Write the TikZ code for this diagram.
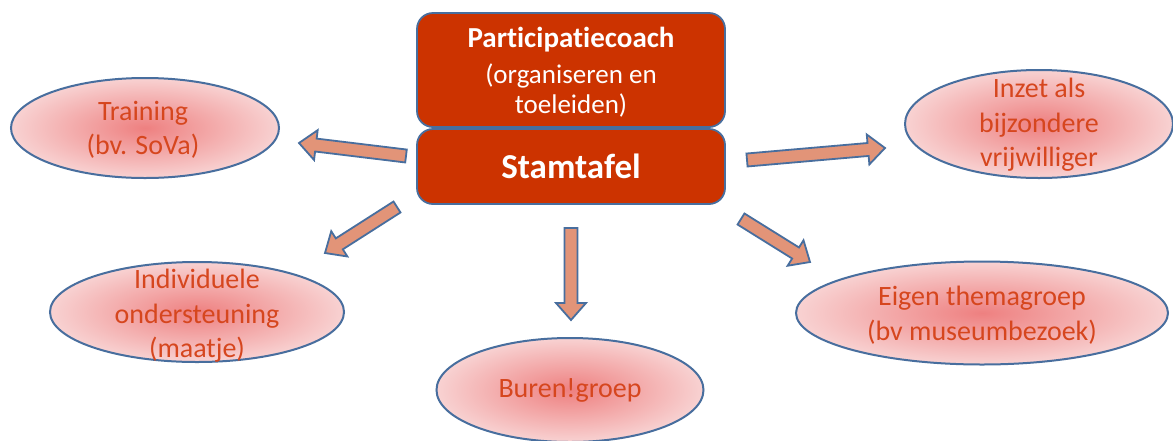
\documentclass[tikz,border=0pt]{standalone}
\usepackage{fontspec}
\setmainfont{Carlito}[Ligatures=NoCommon]
\usetikzlibrary{shapes.geometric,calc}
\definecolor{boxred}{RGB}{204,51,0}
\definecolor{edgeblue}{RGB}{72,110,158}
\definecolor{arrfill}{RGB}{226,148,120}
\definecolor{ellin}{RGB}{238,128,128}
\definecolor{ellout}{RGB}{248,210,210}
\definecolor{elltext}{RGB}{214,70,30}
\tikzset{
  topbox/.style={draw=edgeblue, line width=1.8pt, fill=boxred, rounded corners=16pt,
    minimum width=308pt, inner sep=0pt},
  boxtext/.style={text=white, align=center, inner sep=0pt},
  bubble/.style={ellipse, draw=edgeblue, line width=2pt, inner color=ellin,
    outer color=ellout, inner sep=0pt},
  bubtext/.style={text=elltext, align=center, inner sep=0pt,
    font=\fontsize{28}{34.5}\selectfont},
  blockarrow/.style={draw=edgeblue, line width=1.8pt, fill=arrfill, line join=miter}
}
\newcommand\blockarr[2]{%
  \coordinate (h) at ($(#2)!17pt!(#1)$);
  \draw[blockarrow] ($(#1)!6.5pt!90:(#2)$) -- ($(h)!6.5pt!-90:(#1)$)
    -- ($(h)!15pt!-90:(#1)$) -- (#2) -- ($(h)!15pt!90:(#1)$)
    -- ($(h)!6.5pt!90:(#1)$) -- ($(#1)!6.5pt!-90:(#2)$) -- cycle;
}
\begin{document}
\begin{tikzpicture}[x=1pt,y=-1pt]
\useasboundingbox[fill=white] (0,0) rectangle (1173,440);
% central boxes
\node[topbox, minimum height=114pt] (coach) at (571,70) {};
\node[topbox, minimum height=75pt] (stam) at (571,166.5) {};
\node[boxtext, font=\fontsize{29}{30}\selectfont\bfseries] (coacht) at (571,40) {Participatiecoach};
\node[boxtext, font=\fontsize{27}{30}\selectfont] (coachs) at (571,90) {(organiseren en\\toeleiden)};
\node[boxtext, font=\fontsize{35}{40}\selectfont\bfseries] (stamt) at (571,166) {Stamtafel};
% bubbles
\node[bubble, minimum width=268pt, minimum height=100pt] (train) at (145,128) {};
\node[bubtext] (traint) at (143,130) {Training\\(bv. SoVa)};
\node[bubble, minimum width=294pt, minimum height=100pt] (indiv) at (197,312) {};
\node[bubtext] (indivt) at (197,316) {Individuele\\ondersteuning\\(maatje)};
\node[bubble, minimum width=267pt, minimum height=104pt] (buren) at (570,390) {};
\node[bubtext] (burent) at (570,390) {Buren!groep};
\node[bubble, minimum width=268pt, minimum height=108pt] (inzet) at (1039,124) {};
\node[bubtext] (inzett) at (1039,125) {Inzet als\\bijzondere\\vrijwilliger};
\node[bubble, minimum width=372pt, minimum height=103pt] (eigen) at (982,313) {};
\node[bubtext] (eigent) at (982,315) {Eigen themagroep\\(bv museumbezoek)};
% arrow ends
\coordinate (a1s) at (406,156); \coordinate (a1e) at (299,143);
\coordinate (a2s) at (397,207); \coordinate (a2e) at (325,253);
\coordinate (a3s) at (571,228); \coordinate (a3e) at (571,320);
\coordinate (a4s) at (747,160); \coordinate (a4e) at (885,148);
\coordinate (a5s) at (741,219); \coordinate (a5e) at (810,262);
\blockarr{a1s}{a1e}
\blockarr{a2s}{a2e}
\blockarr{a3s}{a3e}
\blockarr{a4s}{a4e}
\blockarr{a5s}{a5e}
\end{tikzpicture}
\end{document}
